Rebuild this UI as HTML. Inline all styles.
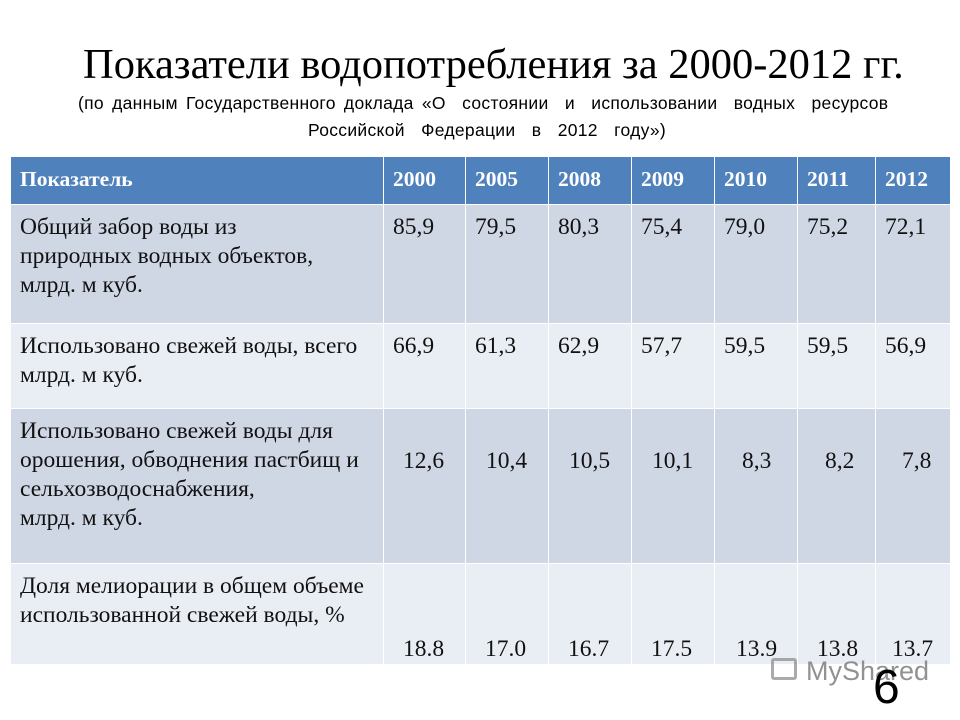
<!DOCTYPE html>
<html><head><meta charset="utf-8"><style>
body{margin:0;width:960px;height:720px;background:#fff;position:relative;overflow:hidden;font-family:"Liberation Serif",serif;}
.t{position:absolute;white-space:nowrap;}
table{position:absolute;left:10px;top:156px;border-collapse:collapse;table-layout:fixed;width:940px;}
td,th{border:1px solid #fff;vertical-align:top;padding:0 0 0 9px;font-size:23.5px;line-height:29px;color:#111;text-align:left;white-space:nowrap;overflow:visible;}
th{background:#4f81bd;color:#fff;font-weight:bold;height:48px;box-sizing:border-box;vertical-align:middle;font-size:21.5px;padding-top:0;padding-bottom:3px;line-height:24px;}
tr.d td{background:#cfd6e4;}
tr.l td{background:#e9edf4;}
td.c{padding-top:8px;}
</style></head><body>
<div class="t" style="left:83px;top:40px;font-size:42.5px;">Показатели водопотребления за 2000-2012 гг.</div>
<div class="t" style="left:78px;top:93px;font-family:'Liberation Sans',sans-serif;font-size:17.5px;letter-spacing:0.3px;word-spacing:3px;">(по данным Государственного доклада «О&nbsp; состоянии&nbsp; и&nbsp; использовании&nbsp; водных&nbsp; ресурсов</div>
<div class="t" style="left:308px;top:120px;font-family:'Liberation Sans',sans-serif;font-size:17.5px;letter-spacing:0.3px;word-spacing:3px;">Российской&nbsp; Федерации&nbsp; в&nbsp; 2012&nbsp; году»)</div>
<table>
<colgroup><col style="width:373px"><col style="width:82px"><col style="width:83px"><col style="width:83px"><col style="width:83px"><col style="width:83px"><col style="width:78px"><col style="width:75px"></colgroup>
<tr style="height:48px"><th>Показатель</th><th>2000</th><th>2005</th><th>2008</th><th>2009</th><th>2010</th><th>2011</th><th>2012</th></tr>
<tr class="d" style="height:119px"><td class="c">Общий забор воды из<br>природных водных объектов,<br>млрд. м куб.</td><td class="c">85,9</td><td class="c">79,5</td><td class="c">80,3</td><td class="c">75,4</td><td class="c">79,0</td><td class="c">75,2</td><td class="c">72,1</td></tr>
<tr class="l" style="height:85px"><td class="c">Использовано свежей воды, всего<br>млрд. м куб.</td><td class="c">66,9</td><td class="c">61,3</td><td class="c">62,9</td><td class="c">57,7</td><td class="c">59,5</td><td class="c">59,5</td><td class="c">56,9</td></tr>
<tr class="d" style="height:155px"><td class="c">Использовано свежей воды для<br>орошения, обводнения пастбищ и<br>сельхозводоснабжения,<br>млрд. м куб.</td><td style="padding:38px 0 0 19px">12,6</td><td style="padding:38px 0 0 20px">10,4</td><td style="padding:38px 0 0 20px">10,5</td><td style="padding:38px 0 0 20px">10,1</td><td style="padding:38px 0 0 27px">8,3</td><td style="padding:38px 0 0 27px">8,2</td><td style="padding:38px 0 0 26px">7,8</td></tr>
<tr class="l" style="height:98px"><td class="c">Доля мелиорации в общем объеме<br>использованной свежей воды, %</td><td style="padding:71px 0 0 19px">18.8</td><td style="padding:71px 0 0 19px">17.0</td><td style="padding:71px 0 0 19px">16.7</td><td style="padding:71px 0 0 19px">17.5</td><td style="padding:71px 0 0 21px">13.9</td><td style="padding:71px 0 0 19px">13.8</td><td style="padding:71px 0 0 16px">13.7</td></tr>
</table>
<div class="t" style="left:771px;top:658px;width:26px;height:22px;border:3px solid #888;border-radius:3px;box-sizing:border-box;opacity:.7;"></div>
<div class="t" style="left:806px;top:656px;font-family:'Liberation Sans',sans-serif;font-size:27px;color:#777;opacity:.8;">MyShared</div>
<div class="t" style="left:873px;top:664px;font-family:'Liberation Sans',sans-serif;font-size:48px;color:#000;line-height:48px;">6</div>
</body></html>
